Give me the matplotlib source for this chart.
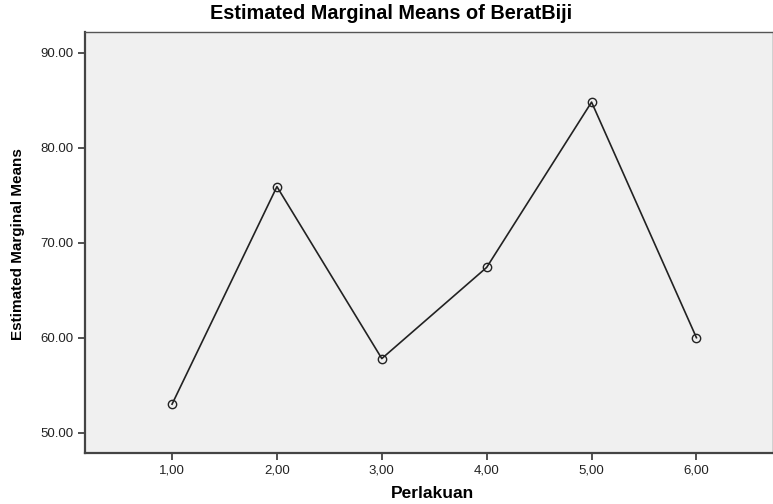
import matplotlib.pyplot as plt

plt.rcParams['font.family'] = ['Liberation Sans', 'DejaVu Sans']

perlakuan = [1, 2, 3, 4, 5, 6]
means = [53.0, 75.9, 57.8, 67.4, 84.8, 60.0]
xtick_labels = ['1,00', '2,00', '3,00', '4,00', '5,00', '6,00']
yticks = [50, 60, 70, 80, 90]
ytick_labels = ['50.00', '60.00', '70.00', '80.00', '90.00']

fig = plt.figure(figsize=(7.73, 5.04), dpi=100)
ax = fig.add_axes([85 / 773, 1 - 453 / 504, 688 / 773, 421 / 504])
ax.set_facecolor('#f0f0f0')

ax.plot(perlakuan, means, color='#222222', lw=1.2, marker='o', ms=6,
        mfc='none', mec='#222222', mew=1.0)

ax.set_xlim(0.17, 6.73)
ax.set_ylim(47.86, 92.18)
ax.set_xticks(perlakuan)
ax.set_xticklabels(xtick_labels)
ax.set_yticks(yticks)
ax.set_yticklabels(ytick_labels)
ax.tick_params(labelsize=9.5, length=5, width=1.2, color='#333333', labelcolor='#222222', pad=3)

for side in ['left', 'bottom']:
    ax.spines[side].set_linewidth(1.6)
    ax.spines[side].set_color('#444444')
for side in ['top', 'right']:
    ax.spines[side].set_linewidth(1.0)
    ax.spines[side].set_color('#555555')

fig.text(433 / 773, 1 - 493 / 504, 'Perlakuan', ha='center', va='center',
         fontsize=12.5, fontweight='bold')
fig.text(18 / 773, 1 - 244 / 504, 'Estimated Marginal Means', ha='center', va='center',
         rotation=90, fontsize=11, fontweight='bold')
fig.text(0.506, 0.974, 'Estimated Marginal Means of BeratBiji', ha='center', va='center',
         fontsize=14.3, fontweight='bold')

plt.savefig('out.png', dpi=100)
